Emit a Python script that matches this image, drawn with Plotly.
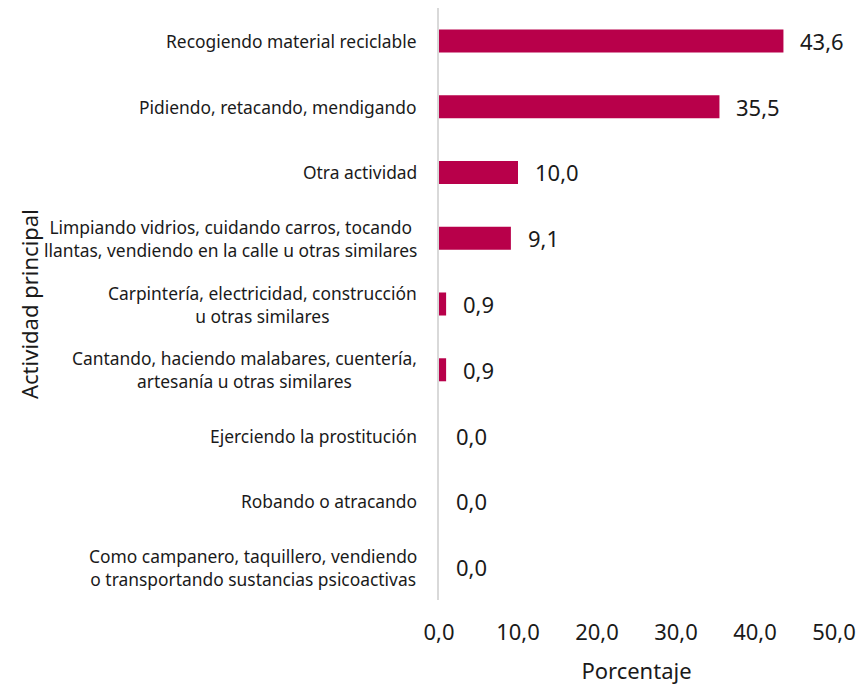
import plotly.graph_objects as go

categories = [
    "Recogiendo material reciclable",
    "Pidiendo, retacando, mendigando",
    "Otra actividad",
    "Limpiando vidrios, cuidando carros, tocando<br>llantas, vendiendo en la calle u otras similares",
    "Carpintería, electricidad, construcción<br>u otras similares",
    "Cantando, haciendo malabares, cuentería,<br>artesanía u otras similares",
    "Ejerciendo la prostitución",
    "Robando o atracando",
    "Como campanero, taquillero, vendiendo<br>o transportando sustancias psicoactivas",
]
values = [43.6, 35.5, 10.0, 9.1, 0.9, 0.9, 0.0, 0.0, 0.0]
tick_vals = [0, 10, 20, 30, 40, 50]
tick_text = ["0,0", "10,0", "20,0", "30,0", "40,0", "50,0"]

FONT = "Noto Sans"
BAR = "#B8004A"
TXT = "#1a1a1a"

fig = go.Figure(go.Bar(
    x=values, y=categories, orientation="h",
    marker=dict(color=BAR, line=dict(width=0)),
    width=0.35,
))

annotations = []
for c, v in zip(categories, values):
    annotations.append(dict(
        x=v, y=c, xref="x", yref="y", text=f"{v:.1f}".replace(".", ","),
        showarrow=False, xanchor="left", yanchor="middle", xshift=15,
        font=dict(family=FONT, size=22, color=TXT),
    ))
    annotations.append(dict(
        x=0, y=c, xref="paper", yref="y", text=c,
        showarrow=False, xanchor="right", yanchor="middle", align="center",
        xshift=-20, font=dict(family=FONT, size=17.4, color=TXT),
    ))
annotations.append(dict(
    x=0, y=0.5, xref="paper", yref="paper", text="Actividad principal",
    showarrow=False, textangle=-90, xanchor="center", yanchor="middle",
    xshift=-410, font=dict(family=FONT, size=22, color=TXT),
))

fig.update_layout(
    width=860, height=688,
    margin=dict(l=439, r=26, t=8, b=88),
    paper_bgcolor="white", plot_bgcolor="white",
    showlegend=False,
    annotations=annotations,
    xaxis=dict(
        range=[0, 50], tickvals=tick_vals, ticktext=tick_text,
        showgrid=False, zeroline=False, showline=False, automargin=False,
        ticks="", ticklabelstandoff=17,
        tickfont=dict(family=FONT, size=22, color=TXT),
        title=dict(text="Porcentaje", font=dict(family=FONT, size=22, color=TXT), standoff=18),
    ),
    yaxis=dict(
        categoryorder="array", categoryarray=categories, autorange="reversed",
        showticklabels=False, showgrid=False, zeroline=False, automargin=False,
        showline=True, linecolor="#d9d9d9", linewidth=2, ticks="",
    ),
)

fig.write_html(
    "out.html",
    config={"displayModeBar": False},
    post_script="document.documentElement.style.overflow='hidden';document.body.style.margin='0';document.body.style.overflow='hidden';",
)
